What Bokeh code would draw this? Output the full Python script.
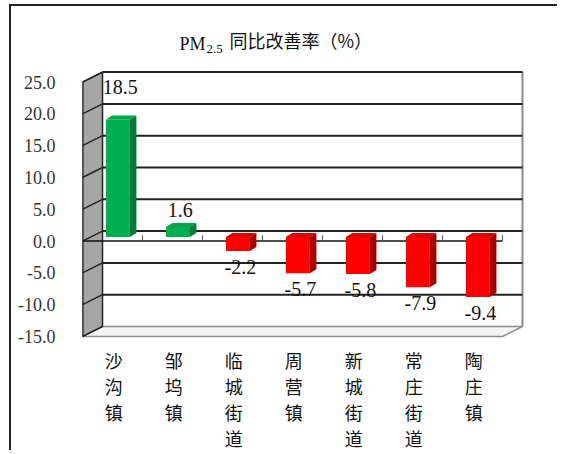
import numpy as np
from bokeh.plotting import figure
from bokeh.models import FixedTicker, NumeralTickFormatter
from bokeh.core.properties import value
from bokeh.embed import file_html
from bokeh.resources import INLINE

# ---------------- data ----------------
categories = ["沙沟镇", "邹坞镇", "临城街道", "周营镇", "新城街道", "常庄街道", "陶庄镇"]
values = [18.5, 1.6, -2.2, -5.7, -5.8, -7.9, -9.4]
y_ticks = [-15, -10, -5, 0, 5, 10, 15, 20, 25]
title_main = "PM"
title_sub = "2.5"
title_rest = "同比改善率（%）"

# ---------------- geometry / style constants ----------------
Y_MIN, Y_MAX = -15.0, 25.0
N = len(categories)
PX_Y = 6.36                       # pixels per value unit
PX_X = 60.0                       # pixels per category
TOP_PAGE, BOT_PAGE, AXIS_BOT_PAGE = 6, 452, 336
Y_START = Y_MIN - (BOT_PAGE - AXIS_BOT_PAGE) / PX_Y
Y_END = Y_MIN + (AXIS_BOT_PAGE - TOP_PAGE) / PX_Y
DX, DY = 20 / PX_X, 10 / PX_Y     # depth of the 3D box (data units)
BX0, BX1 = 0.39, 0.79             # bar front face inside category
BASE = 4 / PX_Y                   # bar depth shift (vertical)
BDX, BDY = 6.5 / PX_X, 4 / PX_Y   # bar depth

GREEN = ("#00B050", "#00A54B", "#007A3A")  # front, top, side
RED = ("#FF0000", "#E00000", "#A30000")


def ypage(py):
    """value-axis coordinate of a page row (for text placement)"""
    return Y_MIN + (AXIS_BOT_PAGE - py) / PX_Y


def xpage(px):
    return (px - 82) / PX_X


p = figure(width=548, height=BOT_PAGE - TOP_PAGE, x_range=(0, 7.4), y_range=(Y_START, Y_END),
           output_backend="svg", toolbar_location=None,
           min_border_left=71, min_border_right=33,
           min_border_top=0, min_border_bottom=0)
p.xgrid.visible = False
p.ygrid.visible = False
p.xaxis.visible = False
p.outline_line_color = None
p.background_fill_color = "white"
p.border_fill_color = "white"
p.styles = {"border-top": "2px solid #222222", "border-left": "2px solid #222222",
            "margin-left": "9px", "margin-top": "4px"}

# back wall
p.patch([DX, N + DX, N + DX, DX], [Y_MIN + DY, Y_MIN + DY, Y_MAX + DY, Y_MAX + DY],
        fill_color="white", line_color=None)
# floor
p.patch([0, N, N + DX, DX], [Y_MIN, Y_MIN, Y_MIN + DY, Y_MIN + DY],
        fill_color="#F4F4F4", line_color="#8C8C8C", line_width=1.5)
# side wall
p.patch([0, DX, DX, 0], [Y_MIN, Y_MIN + DY, Y_MAX + DY, Y_MAX],
        fill_color="#A6A6A6", line_color="#222222", line_width=1.5)
# back wall right edge
p.segment(x0=[N + DX], y0=[Y_MIN + DY], x1=[N + DX], y1=[Y_MAX + DY],
          line_color="#8C8C8C", line_width=2)
# gridlines on the back wall and diagonals on the side wall
grid_v = [t for t in y_ticks if t > Y_MIN]
p.segment(x0=[DX] * len(grid_v), y0=[t + DY for t in grid_v],
          x1=[N + DX] * len(grid_v), y1=[t + DY for t in grid_v],
          line_color="#222222", line_width=2)
p.segment(x0=[0] * len(grid_v), y0=grid_v,
          x1=[DX] * len(grid_v), y1=[t + DY for t in grid_v],
          line_color="#222222", line_width=1.5)
# front edge of the side wall
p.segment(x0=[0], y0=[Y_MIN], x1=[0], y1=[Y_MAX], line_color="#222222", line_width=2)
# front category axis at 0 with ticks
p.segment(x0=[0], y0=[0], x1=[N], y1=[0], line_color="#111111", line_width=1.5)
p.segment(x0=list(range(1, N + 1)), y0=[0] * N, x1=list(range(1, N + 1)), y1=[0.9] * N,
          line_color="#555555", line_width=1)

# bars
v = np.array(values)
idx = np.arange(N)
left = idx + BX0
right = idx + BX1
top = np.maximum(v, 0) + BASE
bot = np.minimum(v, 0) + BASE
front_c = [GREEN[0] if x >= 0 else RED[0] for x in values]
top_c = [GREEN[1] if x >= 0 else RED[1] for x in values]
side_c = [GREEN[2] if x >= 0 else RED[2] for x in values]

p.quad(left=left, right=right, bottom=bot, top=top, fill_color=front_c, line_color=None)
p.patches(xs=[[l, r, r + BDX, l + BDX] for l, r in zip(left, right)],
          ys=[[t, t, t + BDY, t + BDY] for t in top],
          fill_color=top_c, line_color=None)
p.patches(xs=[[r, r, r + BDX, r + BDX] for r in right],
          ys=[[b, t, t + BDY, b + BDY] for b, t in zip(bot, top)],
          fill_color=side_c, line_color=None)

# data labels
lab_y = np.where(v >= 0, v + BASE + 17 / PX_Y, v + BASE - 16 / PX_Y)
lab_y = np.where(lab_y > Y_MAX - 5, Y_MAX - 0.8, lab_y)
p.text(x=idx + 0.63, y=lab_y, text=[f"{x:.1f}" for x in values],
       text_font=value("Liberation Serif"), text_font_size=value("20px"),
       text_color="#111111", text_align="center", text_baseline="middle")

# value axis
p.yaxis.ticker = FixedTicker(ticks=y_ticks)
p.yaxis.formatter = NumeralTickFormatter(format="0.0")
p.yaxis.axis_line_color = None
p.yaxis.major_tick_line_color = None
p.yaxis.minor_tick_line_color = None
p.yaxis.major_label_standoff = 21
p.yaxis.major_label_text_font = "Liberation Serif"
p.yaxis.major_label_text_font_size = "18px"
p.yaxis.major_label_text_color = "#333333"

# category labels (vertical text, one character per line)
p.text(x=idx + 0.52, y=[ypage(346)] * N, text=["\n".join(c) for c in categories],
       text_font=value("Noto Sans CJK SC"), text_font_size=value("18px"),
       text_line_height=1.0, text_color="#111111",
       text_align="center", text_baseline="top")

# title (with subscript)
p.text(x=[xpage(179)], y=[ypage(43)], text=[title_main],
       text_font=value("Liberation Serif"), text_font_size=value("18px"),
       text_color="#111111", text_align="left", text_baseline="alphabetic")
p.text(x=[xpage(206)], y=[ypage(48)], text=[title_sub],
       text_font=value("Liberation Serif"), text_font_size=value("13px"),
       text_color="#111111", text_align="left", text_baseline="alphabetic")
p.text(x=[xpage(229)], y=[ypage(39)], text=[title_rest],
       text_font=value("Noto Sans CJK SC"), text_font_size=value("18px"),
       text_color="#111111", text_align="left", text_baseline="middle")

open("out.html", "w").write(file_html(p, INLINE))
